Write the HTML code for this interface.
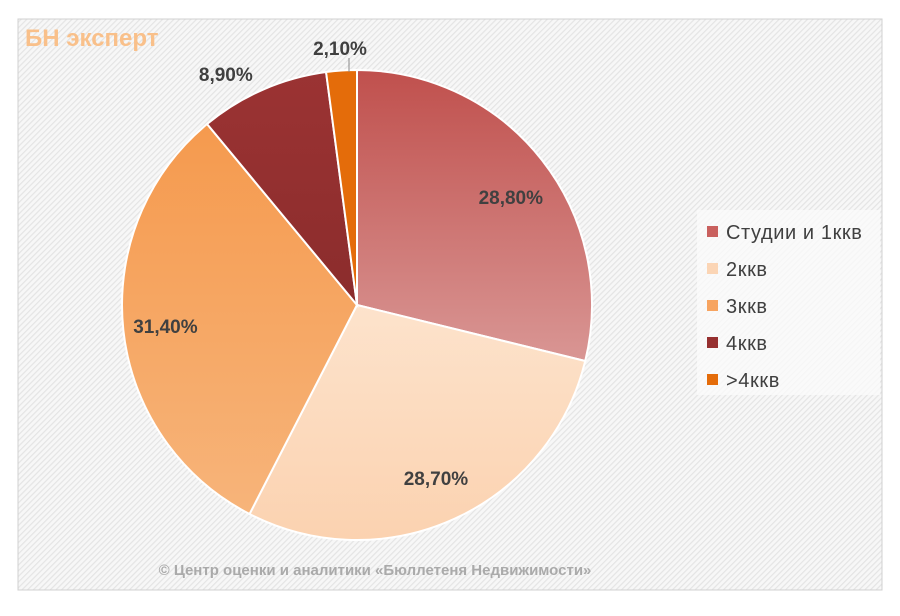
<!DOCTYPE html>
<html><head><meta charset="utf-8"><style>
body{margin:0;background:#fff;width:900px;height:611px;overflow:hidden;font-family:"Liberation Sans","DejaVu Sans",sans-serif}
</style></head><body>
<svg width="900" height="611" viewBox="0 0 900 611" xmlns="http://www.w3.org/2000/svg">
<defs>
<pattern id="hatch" width="4" height="4" patternUnits="userSpaceOnUse" patternTransform="rotate(45)">
<rect width="4" height="4" fill="#f7f7f7"/><rect width="1.2" height="4" fill="#e4e4e4"/></pattern>
<linearGradient id="g0" x1="0" y1="0" x2="0" y2="1"><stop offset="0" stop-color="#c0504d"/><stop offset="1" stop-color="#d99694"/></linearGradient>
<linearGradient id="g1" x1="0" y1="0" x2="0" y2="1"><stop offset="0" stop-color="#fde3cc"/><stop offset="1" stop-color="#fbd2b0"/></linearGradient>
<linearGradient id="g2" x1="0" y1="0" x2="0" y2="1"><stop offset="0" stop-color="#f59a4e"/><stop offset="1" stop-color="#f7b47a"/></linearGradient>
<linearGradient id="g3" x1="0" y1="0" x2="0" y2="1"><stop offset="0" stop-color="#9b3333"/><stop offset="1" stop-color="#8b2c2c"/></linearGradient>
<linearGradient id="g4" x1="0" y1="0" x2="0" y2="1"><stop offset="0" stop-color="#e46c0a"/><stop offset="1" stop-color="#e46c0a"/></linearGradient>
</defs>
<rect x="18" y="19" width="864" height="571" fill="url(#hatch)" stroke="#d0d0d0"/>
<text x="25" y="46" font-size="24" font-weight="bold" fill="#f9c08a">БН эксперт</text>
<g id="slices"></g>
<g id="labels"></g>
<line x1="349" y1="58" x2="349" y2="72" stroke="#888"/>
<rect x="697" y="210" width="183" height="185" fill="#fafafa" opacity="0.8"/>
<g id="legend"></g>
<text x="375" y="575" font-size="15" font-weight="bold" fill="#aaaaaa" text-anchor="middle">© Центр оценки и аналитики «Бюллетеня Недвижимости»</text>
</svg>
<script>
const categories=["Студии и 1ккв","2ккв","3ккв","4ккв",">4ккв"];
const values=[28.8,28.7,31.4,8.9,2.1];
const valueLabels=["28,80%","28,70%","31,40%","8,90%","2,10%"];
const fills=["url(#g0)","url(#g1)","url(#g2)","url(#g3)","url(#g4)"];
const legendColors=["#c9605e","#fbd5b5","#f7a460","#963030","#e46c0a"];
const cx=357,cy=305,r=235,NS="http://www.w3.org/2000/svg";
const total=values.reduce((a,b)=>a+b,0);
const sl=document.getElementById('slices'),lb=document.getElementById('labels'),lg=document.getElementById('legend');
const labelR=[0.80,0.81,0.82,1.13,1.11];
const labelDA=[3,0,0,-6,0];
let a=0;
values.forEach((v,i)=>{
  const a1=a+v/total*2*Math.PI;
  const p=(t,rr)=>[cx+rr*Math.sin(t),cy-rr*Math.cos(t)];
  const [x0,y0]=p(a,r),[x1,y1]=p(a1,r);
  const path=document.createElementNS(NS,'path');
  path.setAttribute('d',`M${cx},${cy}L${x0},${y0}A${r},${r} 0 ${a1-a>Math.PI?1:0} 1 ${x1},${y1}Z`);
  path.setAttribute('fill',fills[i]);path.setAttribute('stroke','#fff');path.setAttribute('stroke-width','2');
  
  
  sl.appendChild(path);
  const m=(a+a1)/2+labelDA[i]*Math.PI/180;let [lx,ly]=p(m,r*labelR[i]);
  if(i===4){lx=cx-17;ly=cy-r-22;}
  const t=document.createElementNS(NS,'text');
  t.setAttribute('x',lx);t.setAttribute('y',ly+7);t.setAttribute('text-anchor','middle');
  t.setAttribute('font-size','19');t.setAttribute('font-weight','bold');t.setAttribute('fill','#404040');
  t.textContent=valueLabels[i];
  
  
  lb.appendChild(t);
  a=a1;
});
categories.forEach((c,i)=>{
  const y=232+i*37;
  const g=document.createElementNS(NS,'g');
  
  
  const s=document.createElementNS(NS,'rect');
  s.setAttribute('x',707);s.setAttribute('y',y-6);s.setAttribute('width',11);s.setAttribute('height',11);s.setAttribute('fill',legendColors[i]);
  const t=document.createElementNS(NS,'text');
  t.setAttribute('x',726);t.setAttribute('y',y+7);t.setAttribute('font-size','20');t.setAttribute('letter-spacing','0.6');t.setAttribute('fill','#404040');
  t.textContent=c;
  g.appendChild(s);g.appendChild(t);lg.appendChild(g);
});
</script>
</body></html>
